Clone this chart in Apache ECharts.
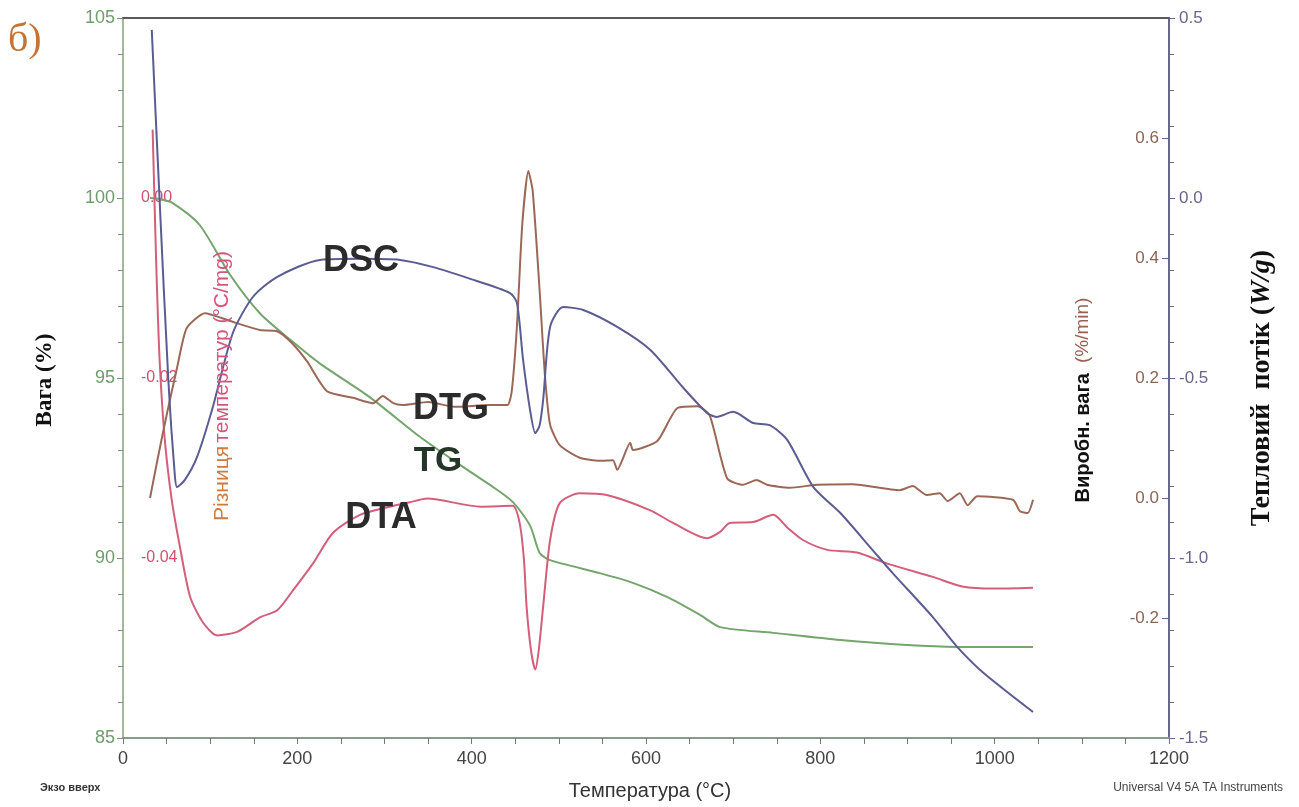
<!DOCTYPE html>
<html>
<head>
<meta charset="utf-8">
<script src="https://cdn.jsdelivr.net/npm/echarts@6/dist/echarts.min.js"></script>
<style>
html,body{margin:0;padding:0;background:#fff;}
#chart{width:1299px;height:807px;}
</style>
</head>
<body>
<div id="chart"></div>
<script>
// ---- Data (temperature °C, value in axis units) ----
var tgT = [31, 42, 57, 88, 123, 157, 192, 226, 283, 341, 390, 421, 447, 467, 478, 490, 547, 585, 624, 662, 685, 746, 823, 899, 957, 1044];
var tgV = [100.0, 99.97, 99.86, 99.25, 97.86, 96.8, 96.06, 95.4, 94.47, 93.36, 92.53, 92.03, 91.56, 90.9, 90.14, 89.94, 89.58, 89.31, 88.92, 88.42, 88.08, 87.92, 87.72, 87.58, 87.53, 87.53];

var dscT = [33, 42, 52, 59, 62, 71, 85, 103, 126, 149, 177, 226, 272, 318, 356, 395, 444, 452, 459, 467, 473, 478, 482, 490, 505, 528, 567, 605, 642, 670, 681, 700, 723, 742, 762, 792, 823, 860, 883, 929, 957, 987, 1044];
var dscV = [0.467, -0.006, -0.506, -0.756, -0.803, -0.783, -0.719, -0.581, -0.375, -0.275, -0.219, -0.172, -0.169, -0.172, -0.192, -0.222, -0.264, -0.292, -0.45, -0.589, -0.653, -0.631, -0.561, -0.358, -0.303, -0.311, -0.358, -0.422, -0.525, -0.597, -0.608, -0.594, -0.625, -0.631, -0.672, -0.803, -0.875, -0.978, -1.042, -1.164, -1.247, -1.319, -1.428];

var dtaT = [34, 38, 42, 48, 56, 65, 77, 92, 108, 131, 157, 177, 195, 218, 241, 272, 306, 329, 349, 410, 447, 455, 460, 463, 468, 473, 477, 482, 490, 501, 524, 555, 605, 631, 670, 685, 696, 723, 746, 762, 780, 808, 842, 876, 929, 964, 998, 1044];
var dtaV = [0.0076, -0.0069, -0.018, -0.0269, -0.0336, -0.0386, -0.0443, -0.0472, -0.0486, -0.0482, -0.0466, -0.0458, -0.0436, -0.0406, -0.0372, -0.0352, -0.0343, -0.0338, -0.0334, -0.0343, -0.0342, -0.0361, -0.0402, -0.0454, -0.0502, -0.0524, -0.0502, -0.0454, -0.038, -0.0339, -0.0328, -0.033, -0.0347, -0.0361, -0.0378, -0.0371, -0.0361, -0.036, -0.0352, -0.0366, -0.038, -0.0391, -0.0394, -0.0406, -0.0421, -0.0432, -0.0434, -0.0433];

var dtgT = [31, 40, 50, 62, 73, 94, 123, 157, 177, 194, 211, 234, 264, 287, 298, 310, 321, 350, 380, 421, 441, 446, 452, 458, 465, 470, 478, 484, 490, 501, 524, 547, 562, 567, 582, 585, 613, 636, 659, 673, 693, 711, 727, 739, 765, 796, 837, 891, 906, 922, 937, 946, 960, 969, 980, 1021, 1029, 1038, 1044];
var dtgV = [0.0, 0.067, 0.138, 0.217, 0.283, 0.308, 0.295, 0.28, 0.278, 0.258, 0.228, 0.178, 0.167, 0.158, 0.17, 0.158, 0.155, 0.16, 0.152, 0.155, 0.155, 0.178, 0.288, 0.455, 0.545, 0.512, 0.345, 0.205, 0.122, 0.088, 0.067, 0.062, 0.063, 0.047, 0.092, 0.08, 0.095, 0.15, 0.153, 0.138, 0.033, 0.022, 0.03, 0.022, 0.017, 0.022, 0.023, 0.013, 0.02, 0.005, 0.008, -0.005, 0.008, -0.012, 0.003, -0.003, -0.022, -0.025, -0.003];

var xTicks = [0, 200, 400, 600, 800, 1000, 1200];
var tgTicks = [85, 90, 95, 100, 105];
var dtaTicks = [0.00, -0.02, -0.04];
var dtgTicks = [0.6, 0.4, 0.2, 0.0, -0.2];
var dscTicks = [0.5, 0.0, -0.5, -1.0, -1.5];

function pairs(a, b) { return a.map(function (t, i) { return [t, b[i]]; }); }

var C_TG = '#74a56c', C_DSC = '#5c5c92', C_DTA = '#d35f7b', C_DTG = '#9b6858';
var C_LEFT = '#6f9c6c', C_RIGHT = '#66668e';

var chart = echarts.init(document.getElementById('chart'), null, {renderer: 'canvas'});
var option = {
  animation: false,
  backgroundColor: '#ffffff',
  grid: {left: 123, right: 130, top: 18, bottom: 69, containLabel: false},
  xAxis: [{
    type: 'value', min: xTicks[0], max: xTicks[xTicks.length - 1], interval: 200,
    axisLine: {show: true, onZero: false, lineStyle: {color: '#8a9a88', width: 2}},
    axisTick: {show: true, length: 6, lineStyle: {color: '#777', width: 1}},
    minorTick: {show: true, splitNumber: 4, length: 6, lineStyle: {color: '#777'}},
    splitLine: {show: false},
    axisLabel: {color: '#444', fontSize: 18, fontFamily: 'Liberation Sans, Arial', margin: 12,
      formatter: function (v) { return String(v); }}
  }, {
    type: 'value', position: 'top', min: 0, max: 1200,
    axisLine: {show: true, onZero: false, lineStyle: {color: '#5a5a5a', width: 2}},
    axisTick: {show: false}, axisLabel: {show: false}, splitLine: {show: false}
  }],
  yAxis: [{
    // TG (%)
    type: 'value', position: 'left', min: 85, max: 105, interval: 5,
    axisLine: {show: true, onZero: false, lineStyle: {color: '#a5b89e', width: 2}},
    axisTick: {show: true, length: 6, lineStyle: {color: C_LEFT}},
    minorTick: {show: true, splitNumber: 5, length: 5, lineStyle: {color: C_LEFT}},
    splitLine: {show: false},
    axisLabel: {color: C_LEFT, fontSize: 18, fontFamily: 'Liberation Sans, Arial', margin: 8}
  }, {
    // DTA (°C/mg)
    type: 'value', position: 'left', min: -0.06, max: 0.02, interval: 0.02,
    axisLine: {show: false, onZero: false}, axisTick: {show: false}, splitLine: {show: false},
    axisLabel: {
      inside: true, margin: 18, color: '#d0506e', fontSize: 16, fontFamily: 'Liberation Sans, Arial',
      showMinLabel: false, showMaxLabel: false,
      formatter: function (v) { return v.toFixed(2); }
    }
  }, {
    // DTG (%/min)
    type: 'value', position: 'right', min: -0.4, max: 0.8, interval: 0.2,
    axisLine: {show: false, onZero: false},
    axisTick: {show: true, inside: true, length: 7, lineStyle: {color: C_RIGHT}},
    splitLine: {show: false},
    axisLabel: {
      inside: true, margin: 10, color: '#8a6454', fontSize: 17, fontFamily: 'Liberation Sans, Arial',
      showMinLabel: false, showMaxLabel: false,
      formatter: function (v) { return v.toFixed(1); }
    }
  }, {
    // DSC (W/g)
    type: 'value', position: 'right', min: -1.5, max: 0.5, interval: 0.5,
    axisLine: {show: true, onZero: false, lineStyle: {color: C_RIGHT, width: 2}},
    axisTick: {show: true, length: 6, lineStyle: {color: C_RIGHT}},
    minorTick: {show: true, splitNumber: 5, length: 5, lineStyle: {color: C_RIGHT}},
    splitLine: {show: false},
    axisLabel: {color: C_RIGHT, fontSize: 17, fontFamily: 'Liberation Sans, Arial', margin: 10,
      formatter: function (v) { return v.toFixed(1); }}
  }],
  series: [{
    name: 'TG', type: 'line', xAxisIndex: 0, yAxisIndex: 0, data: pairs(tgT, tgV),
    showSymbol: false, smooth: 0.25, lineStyle: {color: C_TG, width: 2}, z: 3
  }, {
    name: 'DTA', type: 'line', xAxisIndex: 0, yAxisIndex: 1, data: pairs(dtaT, dtaV),
    showSymbol: false, smooth: 0.25, lineStyle: {color: C_DTA, width: 2}, z: 3
  }, {
    name: 'DTG', type: 'line', xAxisIndex: 0, yAxisIndex: 2, data: pairs(dtgT, dtgV),
    showSymbol: false, smooth: 0.2, lineStyle: {color: C_DTG, width: 2}, z: 3
  }, {
    name: 'DSC', type: 'line', xAxisIndex: 0, yAxisIndex: 3, data: pairs(dscT, dscV),
    showSymbol: false, smooth: 0.25, lineStyle: {color: C_DSC, width: 2}, z: 3
  }],
  graphic: [
    {type: 'text', left: 8, top: 20, z: 10, style: {text: 'б)', fill: '#c47434', font: '40px "Liberation Serif", serif'}},
    {type: 'text', x: 361, y: 261, z: 10, style: {text: 'DSC', fill: '#2b2b2b', font: 'bold 36px "Liberation Sans", Arial', align: 'center', verticalAlign: 'middle'}},
    {type: 'text', x: 451, y: 409, z: 10, style: {text: 'DTG', fill: '#2b2b2b', font: 'bold 36px "Liberation Sans", Arial', align: 'center', verticalAlign: 'middle'}},
    {type: 'text', x: 438, y: 461, z: 10, style: {text: 'TG', fill: '#25352a', font: 'bold 35px "Liberation Sans", Arial', align: 'center', verticalAlign: 'middle'}},
    {type: 'text', x: 381, y: 518, z: 10, style: {text: 'DTA', fill: '#2b2b2b', font: 'bold 36px "Liberation Sans", Arial', align: 'center', verticalAlign: 'middle'}},
    {type: 'text', x: 45, y: 380, rotation: Math.PI / 2, z: 10,
      style: {text: 'Вага (%)', fill: '#111', font: 'bold 23px "Liberation Serif", serif', align: 'center', verticalAlign: 'middle'}},
    {type: 'text', x: 222, y: 386, rotation: Math.PI / 2, z: 10,
      style: {text: '{a|Різниця} {b|температур (°C/mg)}', align: 'center', verticalAlign: 'middle',
        rich: {a: {fill: '#cf7a3e', font: '21px "Liberation Sans", Arial'}, b: {fill: '#d4567a', font: '21px "Liberation Sans", Arial'}}}},
    {type: 'text', x: 1083, y: 400, rotation: Math.PI / 2, z: 10,
      style: {text: '{a|Виробн. вага}   {b|(%/min)}', align: 'center', verticalAlign: 'middle',
        rich: {a: {fill: '#111', font: 'bold 20px "Liberation Sans", Arial'}, b: {fill: '#9a6050', font: '19px "Liberation Sans", Arial'}}}},
    {type: 'text', x: 1262, y: 388, rotation: Math.PI / 2, z: 10,
      style: {text: '{a|Тепловий  потік (}{b|W/g}{a|)}', align: 'center', verticalAlign: 'middle',
        rich: {a: {fill: '#111', font: 'bold 28px "Liberation Serif", serif'}, b: {fill: '#111', font: 'italic bold 28px "Liberation Serif", serif'}}}},
    {type: 'text', x: 650, y: 791, z: 10,
      style: {text: 'Температура (°C)', fill: '#333', font: '20px "Liberation Sans", Arial', align: 'center', verticalAlign: 'middle'}},
    {type: 'text', x: 40, y: 788, z: 10,
      style: {text: 'Экзо вверх', fill: '#333', font: 'bold 11px "Liberation Sans", Arial', align: 'left', verticalAlign: 'middle'}},
    {type: 'text', x: 1283, y: 788, z: 10,
      style: {text: 'Universal V4 5A TA Instruments', fill: '#444', font: '12px "Liberation Sans", Arial', align: 'right', verticalAlign: 'middle'}}
  ]
};
chart.setOption(option);
</script>
</body>
</html>
